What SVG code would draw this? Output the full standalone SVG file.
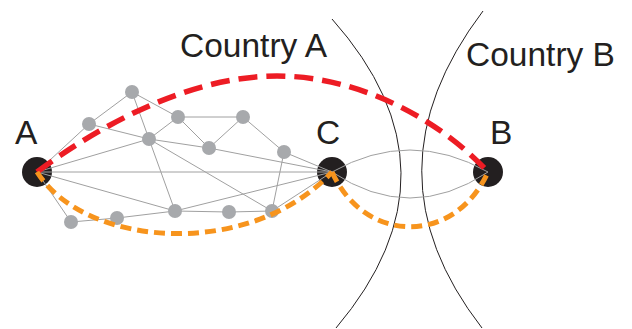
<svg xmlns="http://www.w3.org/2000/svg" width="632" height="329" viewBox="0 0 632 329">
  <style>
    .label { font-family: "Liberation Sans", Arial, sans-serif; font-size: 33.5px; fill: #231f20; }
    .border { fill: none; stroke: #231f20; stroke-width: 1; }
    .edge { fill: none; stroke: #a0a0a0; stroke-width: 1; }
    .hub { fill: #231f20; }
    .relay { fill: #a7a9ac; }
    .route-red { fill: none; stroke: #ed1c24; stroke-width: 5.5; stroke-dasharray: 19 9; }
    .route-orange { fill: none; stroke: #f7941d; stroke-width: 5; stroke-dasharray: 11 6; }
  </style>

  <!-- country borders -->
  <g id="borders">
    <path class="border" d="M332,19 Q468,172 336,328"/>
    <path class="border" d="M483,11 Q361,172 482,328"/>
  </g>
  <text class="label" x="180" y="57">Country A</text>
  <text class="label" x="466" y="66">Country B</text>

  <!-- endpoint hubs -->
  <g id="node-A"><circle class="hub" cx="37" cy="172" r="15"/><text class="label" x="15" y="144">A</text></g>
  <g id="node-C"><circle class="hub" cx="332" cy="172" r="15"/><text class="label" x="316" y="144">C</text></g>
  <g id="node-B"><circle class="hub" cx="488" cy="172" r="15"/><text class="label" x="490" y="144">B</text></g>

  <!-- mesh links -->
  <g id="connectors">
    <path class="edge" d="M37,172 L89,124 L132,92 L178,117 L243,117 L284,152 L332,172"/>
    <path class="edge" d="M132,92 L175,211"/>
    <path class="edge" d="M89,124 L149,139 L178,117"/>
    <path class="edge" d="M149,139 L209,148 L332,172"/>
    <path class="edge" d="M37,172 L149,139 L272,211"/>
    <path class="edge" d="M178,117 L209,148 L243,117"/>
    <path class="edge" d="M284,152 L272,211"/>
    <path class="edge" d="M37,172 L332,172"/>
    <path class="edge" d="M37,172 L175,211 L332,172"/>
    <path class="edge" d="M37,172 L71,222 L117,218 L175,211 L229,212 L272,211 L332,172"/>
    <path class="edge" d="M332,172 Q410,128 488,172"/>
    <path class="edge" d="M332,172 Q410,224 488,172"/>
  </g>

  <!-- relay nodes -->
  <g id="relays">
    <circle class="relay" cx="132" cy="92" r="7"/>
    <circle class="relay" cx="89" cy="124" r="7"/>
    <circle class="relay" cx="178" cy="117" r="7"/>
    <circle class="relay" cx="243" cy="117" r="7"/>
    <circle class="relay" cx="149" cy="139" r="7"/>
    <circle class="relay" cx="209" cy="148" r="7"/>
    <circle class="relay" cx="284" cy="152" r="7"/>
    <circle class="relay" cx="71" cy="222" r="7"/>
    <circle class="relay" cx="117" cy="218" r="7"/>
    <circle class="relay" cx="175" cy="211" r="7"/>
    <circle class="relay" cx="229" cy="212" r="7"/>
    <circle class="relay" cx="272" cy="211" r="7"/>
  </g>

  <!-- routes -->
  <g id="routes">
    <path class="route-red" d="M37,172 C100,125 190,76 277,76 C360,76 440,120 488,172"/>
    <path class="route-orange" d="M37,172 C85,248 250,260 332,172"/>
    <path class="route-orange" d="M332,172 C365,245 455,245 488,172"/>
  </g>
</svg>
